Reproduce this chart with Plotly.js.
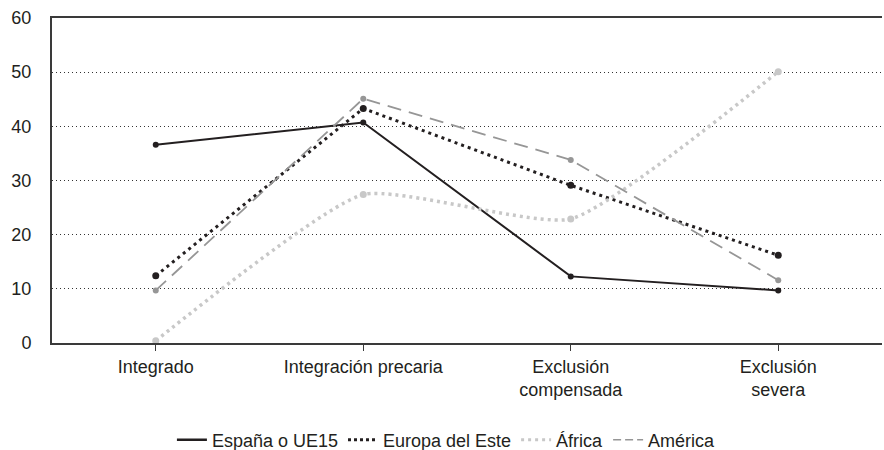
<!DOCTYPE html>
<html><head><meta charset="utf-8">
<script src="https://cdn.plot.ly/plotly-3.0.1.min.js"></script>
<style>html,body{margin:0;padding:0;background:#fff}#chart{width:884px;height:450px}</style>
</head><body><div id="chart"></div>
<script>
const categories = ["Integrado", "Integración precaria", "Exclusión<br>compensada", "Exclusión<br>severa"];
const espana = [36.6, 40.7, 12.3, 9.7];
const europaEste = [12.4, 43.3, 29.1, 16.2];
const africa = [0.4, 27.4, 22.9, 50.1];
const america = [9.7, 45.1, 33.8, 11.6];
const seriesNames = ["España o UE15", "Europa del Este", "África", "América"];
const yTicks = [0, 10, 20, 30, 40, 50, 60];

const styles = [
  {line: {color: "#231f20", width: 2}, marker: {color: "#231f20", size: 6}},
  {line: {color: "#231f20", width: 3, dash: "3px,4px"}, marker: {color: "#231f20", size: 7}},
  {line: {color: "#c8c8c8", width: 3.5, dash: "3px,4px", shape: "spline", smoothing: 0.5}, marker: {color: "#c8c8c8", size: 7}},
  {line: {color: "#969696", width: 1.8, dash: "14px,8px"}, marker: {color: "#969696", size: 6}}
];
const legendLines = [
  {color: "#231f20", width: 2.5},
  {color: "#231f20", width: 3, dash: "3px,3px"},
  {color: "#c8c8c8", width: 3, dash: "3px,4px"},
  {color: "#969696", width: 1.5, dash: "8px,4px"}
];
const allY = [espana, europaEste, africa, america];

const traces = [];
allY.forEach((ys, i) => {
  traces.push(Object.assign({x: categories, y: ys, name: seriesNames[i], mode: "lines+markers",
    showlegend: false, legendgroup: "g" + i}, styles[i]));
});
allY.forEach((ys, i) => {
  traces.push({x: [null], y: [null], name: seriesNames[i], mode: "lines", legendgroup: "g" + i,
    showlegend: true, line: legendLines[i], hoverinfo: "skip"});
});

const layout = {
  width: 884, height: 450,
  margin: {l: 52, r: 2, t: 18, b: 107},
  paper_bgcolor: "#fff", plot_bgcolor: "#fff",
  font: {family: "Liberation Sans, Arial, sans-serif", size: 18, color: "#231f20"},
  showlegend: true,
  legend: {orientation: "h", x: 0.505, xanchor: "center", xref: "container",
           y: 0.022, yanchor: "middle", yref: "container",
           font: {size: 18, color: "#231f20"}, traceorder: "normal"},
  xaxis: {type: "category", range: [-0.5, 3.5], showline: true, linecolor: "#3a3a3a", linewidth: 2,
          mirror: true, ticks: "outside", ticklen: 6, tickcolor: "#3a3a3a", tickwidth: 1,
          showgrid: false, zeroline: false, tickfont: {size: 18}, fixedrange: true, automargin: false},
  yaxis: {range: [0, 60], tickvals: yTicks, ticktext: yTicks.map(String), showline: true,
          linecolor: "#3a3a3a", linewidth: 2, ticks: "", showgrid: true, gridcolor: "#333",
          griddash: "1px,3px", gridwidth: 1, zeroline: false, tickfont: {size: 18},
          ticklabelstandoff: 15, automargin: false}
};

Plotly.newPlot("chart", traces, layout, {displayModeBar: false, staticPlot: true});
</script></body></html>
